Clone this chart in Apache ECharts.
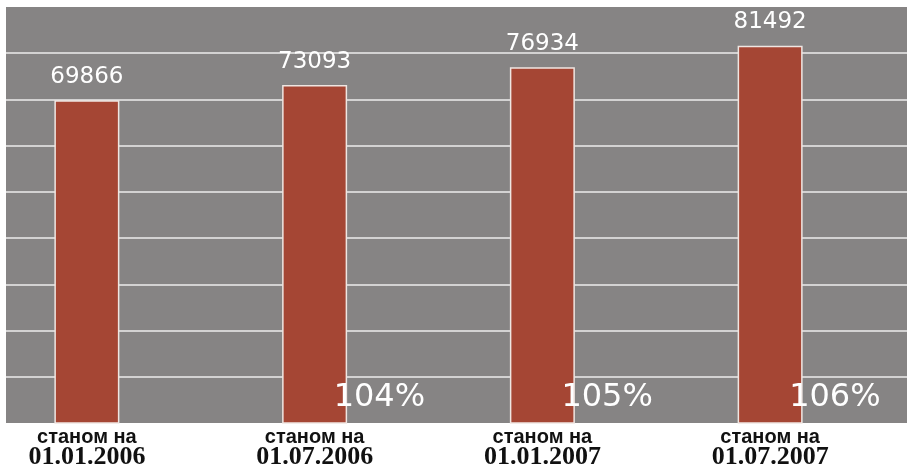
<!DOCTYPE html>
<html>
<head>
<meta charset="utf-8">
<script src="https://cdn.jsdelivr.net/npm/echarts@6/dist/echarts.min.js"></script>
<style>
  html, body { margin: 0; padding: 0; background: #ffffff; }
  #chart { width: 907px; height: 468px; }
</style>
</head>
<body>
<div id="chart"></div>
<script>
// Reporting dates
const dates = ['01.01.2006', '01.07.2006', '01.01.2007', '01.07.2007'];
const datePrefix = 'станом на';
// Totals at each date
const totals = [69866, 73093, 76934, 81492];
// Growth versus the previous date, percent
const growthPct = [null, 104, 105, 106];

const chart = echarts.init(document.getElementById('chart'), null, { renderer: 'canvas' });

const option = {
  backgroundColor: '#ffffff',
  animation: false,
  grid: [
    // gray panel with the white rulings
    { left: 6, right: 0, top: 7, bottom: 45, show: true, backgroundColor: '#868484', borderWidth: 0, outerBoundsMode: 'none' },
    // bars (category band starts left of the panel so the first bar sits near it)
    { left: -27, width: 911, top: 7, bottom: 45, outerBoundsMode: 'none', containLabel: false }
  ],
  xAxis: [
    { gridIndex: 0, type: 'value', show: false, min: 0, max: 1 },
    {
      gridIndex: 1,
      type: 'category',
      data: dates,
      axisLine: { show: false },
      axisTick: { show: false },
      splitLine: { show: false },
      axisLabel: {
        margin: 4,
        interval: 0,
        formatter: v => '{a|' + datePrefix + '}\n{b|' + v + '}',
        rich: {
          a: { fontFamily: 'Liberation Sans', fontWeight: 'bold', fontSize: 20, color: '#111111', lineHeight: 20, align: 'center' },
          b: { fontFamily: 'Liberation Serif', fontWeight: 'bold', fontSize: 26, color: '#111111', lineHeight: 20, align: 'center' }
        }
      }
    }
  ],
  yAxis: [
    {
      gridIndex: 0, type: 'value', min: 0, max: 9, interval: 1,
      axisLine: { show: false }, axisTick: { show: false }, axisLabel: { show: false },
      splitLine: { show: true, showMaxLine: false, showMinLine: false, lineStyle: { color: '#ececec', width: 1.6 } }
    },
    {
      gridIndex: 1, type: 'value', min: 800, max: 89800,
      axisLine: { show: false }, axisTick: { show: false }, axisLabel: { show: false },
      splitLine: { show: false }
    }
  ],
  series: [
    {
      type: 'bar',
      xAxisIndex: 1,
      yAxisIndex: 1,
      data: totals,
      barWidth: 65,
      itemStyle: { color: '#a54634', borderColor: '#efe6e2', borderWidth: 1.5 },
      label: {
        show: true,
        position: 'top',
        distance: 12,
        fontFamily: 'DejaVu Sans',
        fontSize: 23,
        color: '#ffffff'
      }
    },
    {
      // transparent overlay carrying the growth labels
      type: 'bar',
      xAxisIndex: 1,
      yAxisIndex: 1,
      data: totals,
      barWidth: 65,
      barGap: '-100%',
      silent: true,
      itemStyle: { color: 'rgba(0,0,0,0)' },
      label: {
        show: true,
        position: 'insideBottom',
        distance: 0,
        align: 'left',
        verticalAlign: 'middle',
        offset: [19, -25],
        fontFamily: 'DejaVu Sans',
        fontSize: 32,
        color: '#ffffff',
        formatter: p => growthPct[p.dataIndex] == null ? '' : growthPct[p.dataIndex] + '%'
      }
    }
  ]
};

chart.setOption(option);
</script>
</body>
</html>
